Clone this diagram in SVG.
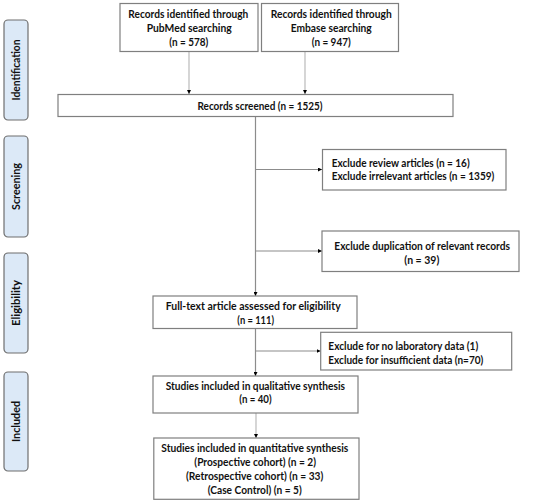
<svg xmlns="http://www.w3.org/2000/svg" width="550" height="504" viewBox="0 0 550 504">
<style>
text{font-family:Lato,"Open Sans","Liberation Sans",sans-serif;font-weight:700;font-size:11px;fill:#111}
.c{text-anchor:middle}
.box{fill:#fff;stroke:#7f7f7f;stroke-width:1.2}
.side{fill:#dce9f7;stroke:#6f6f6f;stroke-width:1.2}
.ln{fill:none;stroke:#8c8c8c;stroke-width:1.2}
.lt{fill:none;stroke:#c4c4c4;stroke-width:1.4}
</style>
<defs>
<marker id="ah" viewBox="0 0 6 6" refX="6" refY="3" markerWidth="4" markerHeight="4" orient="auto" markerUnits="userSpaceOnUse"><path d="M0,0 L6,3 L0,6 z" fill="#000"/></marker>
</defs>
<rect width="550" height="504" fill="#fff"/>
<g id="phases">
<g id="identification"><rect class="side" x="4" y="20" width="24" height="100" rx="4"/><text class="c" transform="translate(20,70) rotate(-90)" textLength="61" lengthAdjust="spacingAndGlyphs">Identification</text></g>
<g id="screening"><rect class="side" x="4" y="136" width="24" height="101" rx="4"/><text class="c" transform="translate(20,186.5) rotate(-90)" textLength="47" lengthAdjust="spacingAndGlyphs">Screening</text></g>
<g id="eligibility"><rect class="side" x="4" y="253" width="24" height="100" rx="4"/><text class="c" transform="translate(20,303) rotate(-90)" textLength="46" lengthAdjust="spacingAndGlyphs">Eligibility</text></g>
<g id="included"><rect class="side" x="4" y="372" width="24" height="99" rx="4"/><text class="c" transform="translate(20,421.5) rotate(-90)" textLength="41" lengthAdjust="spacingAndGlyphs">Included</text></g>
</g>
<g id="connectors">
<line class="lt" x1="189" y1="52" x2="189" y2="94" marker-end="url(#ah)"/>
<line class="lt" x1="305" y1="52" x2="305" y2="94" marker-end="url(#ah)"/>
<line class="ln" x1="255.5" y1="117" x2="255.5" y2="296" marker-end="url(#ah)"/>
<line class="ln" x1="255.5" y1="169.5" x2="322" y2="169.5" marker-end="url(#ah)"/>
<line class="ln" x1="255.5" y1="251" x2="322" y2="251" marker-end="url(#ah)"/>
<line class="ln" x1="255.5" y1="329" x2="255.5" y2="376" marker-end="url(#ah)"/>
<line class="ln" x1="255.5" y1="351" x2="320.5" y2="351" marker-end="url(#ah)"/>
<line class="lt" x1="256" y1="413" x2="256" y2="438" marker-end="url(#ah)"/>
</g>
<g id="pubmed"><rect class="box" x="120" y="3.5" width="138" height="48"/>
<text class="c" x="188.3" y="18" textLength="120" lengthAdjust="spacingAndGlyphs">Records identified through</text>
<text class="c" x="189.2" y="31.5" textLength="85" lengthAdjust="spacingAndGlyphs">PubMed searching</text>
<text class="c" x="188.8" y="45.5" textLength="39" lengthAdjust="spacingAndGlyphs">(n = 578)</text></g>
<g id="embase"><rect class="box" x="261.5" y="3.5" width="137" height="48"/>
<text class="c" x="331.2" y="18" textLength="121" lengthAdjust="spacingAndGlyphs">Records identified through</text>
<text class="c" x="331.2" y="31.5" textLength="81" lengthAdjust="spacingAndGlyphs">Embase searching</text>
<text class="c" x="331.2" y="45.5" textLength="39" lengthAdjust="spacingAndGlyphs">(n = 947)</text></g>
<g id="screened"><rect class="box" x="58" y="94.5" width="395" height="22"/>
<text class="c" x="260" y="109.5" textLength="125" lengthAdjust="spacingAndGlyphs">Records screened (n = 1525)</text></g>
<g id="exclude1"><rect class="box" x="322.5" y="149.5" width="183.5" height="40.5"/>
<text x="331.7" y="166.5" textLength="138" lengthAdjust="spacingAndGlyphs">Exclude review articles (n = 16)</text>
<text x="331.7" y="180" textLength="162.7" lengthAdjust="spacingAndGlyphs">Exclude irrelevant articles (n = 1359)</text></g>
<g id="exclude2"><rect class="box" x="322" y="231" width="197" height="40.5"/>
<text class="c" x="422.2" y="250" textLength="175.7" lengthAdjust="spacingAndGlyphs">Exclude duplication of relevant records</text>
<text class="c" x="421.8" y="264" textLength="35" lengthAdjust="spacingAndGlyphs">(n = 39)</text></g>
<g id="fulltext"><rect class="box" x="153" y="296" width="204" height="32.5"/>
<text class="c" x="253.2" y="310" textLength="175" lengthAdjust="spacingAndGlyphs">Full-text article assessed for eligibility</text>
<text class="c" x="255.7" y="324" textLength="36.7" lengthAdjust="spacingAndGlyphs">(n = 111)</text></g>
<g id="exclude3"><rect class="box" x="320.7" y="332.3" width="191" height="37.7"/>
<text x="328.3" y="349.8" textLength="150" lengthAdjust="spacingAndGlyphs">Exclude for no laboratory data (1)</text>
<text x="328.3" y="363.8" textLength="155" lengthAdjust="spacingAndGlyphs">Exclude for insufficient data (n=70)</text></g>
<g id="qualitative"><rect class="box" x="153" y="376" width="205" height="37"/>
<text class="c" x="255.3" y="389.5" textLength="179.3" lengthAdjust="spacingAndGlyphs">Studies included in qualitative synthesis</text>
<text class="c" x="255.5" y="403.2" textLength="32.3" lengthAdjust="spacingAndGlyphs">(n = 40)</text></g>
<g id="quantitative"><rect class="box" x="153.8" y="438" width="205.2" height="61.3"/>
<text class="c" x="254.8" y="452" textLength="187" lengthAdjust="spacingAndGlyphs">Studies included in quantitative synthesis</text>
<text class="c" x="255.2" y="465.6" textLength="121.7" lengthAdjust="spacingAndGlyphs">(Prospective cohort) (n = 2)</text>
<text class="c" x="254.7" y="479.8" textLength="137.3" lengthAdjust="spacingAndGlyphs">(Retrospective cohort) (n = 33)</text>
<text class="c" x="254.7" y="493.8" textLength="94" lengthAdjust="spacingAndGlyphs">(Case Control) (n = 5)</text></g>
</svg>
